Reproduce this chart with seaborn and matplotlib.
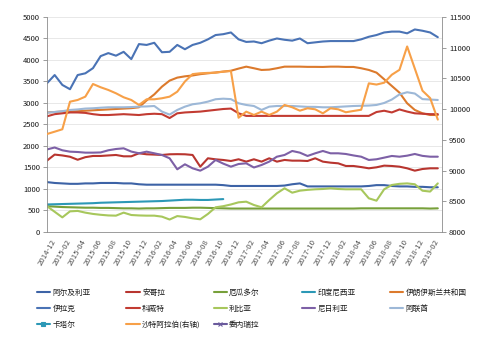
import numpy as np
import pandas as pd
import matplotlib
matplotlib.use("Agg")
import matplotlib.pyplot as plt
from matplotlib.lines import Line2D
import seaborn as sns

# Monthly crude output of OPEC members, thousand barrels per day
months = pd.period_range("2014-12", periods=52, freq="M").strftime("%Y-%m").tolist()

algeria = [1160, 1140, 1130, 1120, 1120, 1130, 1130, 1140, 1140, 1140,
           1130, 1130, 1110, 1100, 1100, 1100, 1100, 1100, 1100, 1100,
           1100, 1100, 1100, 1090, 1070, 1070, 1070, 1070, 1070, 1070,
           1070, 1080, 1110, 1130, 1060, 1060, 1060, 1060, 1060, 1060,
           1060, 1060, 1070, 1090, 1090, 1070, 1060, 1060, 1050, 1050,
           1040, 1040]
angola = [1660, 1800, 1780, 1750, 1680, 1740, 1768, 1768, 1780, 1791,
          1760, 1760, 1830, 1807, 1800, 1791, 1807, 1810, 1807, 1791,
          1519, 1714, 1690, 1675, 1651, 1691, 1636, 1691, 1636, 1714,
          1636, 1675, 1659, 1659, 1651, 1714, 1636, 1612, 1597, 1535,
          1535, 1510, 1481, 1504, 1543, 1535, 1519, 1481, 1426, 1465,
          1481, 1481]
ecuador = [600, 590, 580, 575, 570, 565, 565, 560, 560, 555,
           550, 550, 545, 550, 550, 555, 560, 560, 560, 565,
           565, 560, 555, 550, 545, 545, 545, 545, 545, 545,
           545, 545, 545, 545, 545, 545, 545, 545, 545, 545,
           545, 550, 550, 550, 550, 550, 550, 550, 550, 550,
           545, 550]
# membership suspended after 2016-11
indonesia = [640, 645, 650, 655, 660, 665, 670, 680, 685, 690,
             695, 700, 705, 710, 715, 720, 730, 740, 750, 750,
             745, 745, 755, 765]
iran = [2780, 2790, 2800, 2800, 2810, 2820, 2830, 2840, 2850, 2860,
        2870, 2880, 2900, 3060, 3200, 3380, 3520, 3590, 3620, 3640,
        3670, 3690, 3710, 3730, 3750, 3800, 3845, 3808, 3768, 3776,
        3808, 3845, 3845, 3845, 3840, 3840, 3838, 3845, 3845, 3838,
        3838, 3808, 3768, 3706, 3552, 3396, 3240, 2993, 2838, 2760,
        2721, 2721]
iraq = [3460, 3650, 3420, 3320, 3650, 3690, 3810, 4090, 4160, 4100,
        4190, 4020, 4370, 4350, 4400, 4180, 4190, 4350, 4250, 4350,
        4400, 4480, 4580, 4600, 4640, 4480, 4420, 4430, 4390, 4450,
        4500, 4470, 4450, 4500, 4390, 4410, 4430, 4440, 4440, 4440,
        4440, 4480, 4540, 4580, 4640, 4660, 4660, 4620, 4710, 4680,
        4640, 4530]
kuwait = [2690, 2740, 2760, 2780, 2780, 2770, 2740, 2720, 2720, 2730,
          2740, 2730, 2720, 2740, 2750, 2740, 2650, 2760, 2780, 2790,
          2800, 2820, 2840, 2860, 2870, 2760, 2700, 2700, 2700, 2700,
          2700, 2700, 2700, 2700, 2700, 2700, 2700, 2700, 2700, 2700,
          2700, 2700, 2700, 2790, 2820, 2780, 2850, 2800, 2760, 2750,
          2740, 2740]
libya = [600, 470, 340, 480, 490, 450, 420, 400, 385, 380,
         450, 395, 385, 380, 380, 357, 290, 370, 350, 318,
         295, 420, 574, 600, 640, 690, 705, 628, 574, 744,
         900, 1016, 914, 961, 980, 993, 1000, 1016, 1000, 993,
         993, 993, 783, 728, 993, 1093, 1120, 1130, 1110, 960,
         940, 1130]
nigeria = [1920, 1965, 1900, 1868, 1860, 1845, 1845, 1850, 1900, 1930,
           1946, 1870, 1830, 1868, 1830, 1791, 1714, 1458, 1574, 1481,
           1426, 1519, 1675, 1590, 1519, 1581, 1597, 1500, 1558, 1636,
           1751, 1791, 1884, 1845, 1768, 1830, 1884, 1830, 1830, 1814,
           1780, 1751, 1675, 1691, 1729, 1768, 1751, 1775, 1814, 1770,
           1751, 1751]
uae = [2775, 2790, 2810, 2838, 2850, 2870, 2877, 2890, 2900, 2900,
       2900, 2905, 2915, 2920, 2930, 2800, 2730, 2838, 2915, 2970,
       2993, 3032, 3087, 3100, 3090, 2993, 2954, 2930, 2838, 2915,
       2930, 2930, 2930, 2920, 2910, 2910, 2900, 2900, 2910, 2920,
       2930, 2935, 2940, 2954, 3000, 3080, 3200, 3250, 3220, 3090,
       3080, 3070]
# plotted against the right-hand axis
saudi = [9595, 9633, 9672, 10121, 10149, 10203, 10409, 10356, 10312, 10258,
         10193, 10149, 10068, 10160, 10160, 10177, 10203, 10284, 10450, 10570,
         10584, 10590, 10593, 10610, 10620, 9860, 9959, 9905, 9959, 9905,
         9959, 10068, 10030, 9975, 10014, 9997, 9932, 10014, 9997, 9949,
         9970, 9990, 10420, 10400, 10430, 10560, 10640, 11020, 10660, 10300,
         10180, 9830]

left_series = {
    "阿尔及利亚": algeria,
    "安哥拉": angola,
    "厄瓜多尔": ecuador,
    "印度尼西亚": indonesia,
    "伊朗伊斯兰共和国": iran,
    "伊拉克": iraq,
    "科威特": kuwait,
    "利比亚": libya,
    "尼日利亚": nigeria,
    "阿联酋": uae,
}
colors = {
    "阿尔及利亚": "#3d63a6",
    "安哥拉": "#b8352f",
    "厄瓜多尔": "#77a03a",
    "印度尼西亚": "#2c98b6",
    "伊朗伊斯兰共和国": "#dc7a2c",
    "伊拉克": "#4a73b5",
    "科威特": "#c23b32",
    "利比亚": "#a7c75c",
    "尼日利亚": "#7d60a6",
    "阿联酋": "#9db8d7",
    "卡塔尔": "#2c98b6",
    "沙特阿拉伯(右轴)": "#f7a048",
    "委内瑞拉": "#6a5a9c",
}

rows = []
for name, vals in left_series.items():
    for i, v in enumerate(vals):
        rows.append({"idx": i, "value": v, "country": name})
df = pd.DataFrame(rows)
df_saudi = pd.DataFrame({"idx": range(len(saudi)), "value": saudi})

sns.set_theme(style="white")
plt.rcParams["font.family"] = ["Noto Sans CJK SC", "DejaVu Sans"]

fig = plt.figure(figsize=(4.99, 3.37), dpi=100)
fig.patch.set_facecolor("white")
ax = fig.add_axes([0.0942, 0.3116, 0.7916, 0.638])

sns.lineplot(data=df, x="idx", y="value", hue="country",
             hue_order=list(left_series.keys()), palette=colors,
             linewidth=1.5, legend=False, ax=ax, sort=False)

ax2 = ax.twinx()
sns.lineplot(data=df_saudi, x="idx", y="value", color=colors["沙特阿拉伯(右轴)"],
             linewidth=1.5, legend=False, ax=ax2, sort=False)

axis_col = "#8c8c8c"
ax.set_xlim(0, 51.55)
ax.set_ylim(0, 5000)
ax2.set_ylim(8000, 11500)
ax.set_yticks(np.arange(0, 5001, 500))
ax2.set_yticks(np.arange(8000, 11501, 500))
ax.set_xticks(range(0, len(months), 2))
ax.set_xticklabels(months[::2], rotation=60, ha="center", va="top",
                   fontsize=5.6, color="#505050")
for a in (ax, ax2):
    a.set_xlabel("")
    a.set_ylabel("")
ax.tick_params(axis="y", labelsize=5.5, labelcolor="#1a1a1a", length=3,
               width=0.6, color=axis_col, direction="out", pad=2)
ax.tick_params(axis="x", length=3, width=0.6, color=axis_col, direction="out", pad=1.5)
ax2.tick_params(axis="y", labelsize=5.5, labelcolor="#1a1a1a", length=3,
                width=0.6, color=axis_col, direction="out", pad=2)

ax.yaxis.grid(True, color="#e4e4e4", linewidth=0.6)
ax.set_axisbelow(True)
for s in ("top", "right"):
    ax.spines[s].set_visible(False)
for s in ("left", "bottom"):
    ax.spines[s].set_color(axis_col)
    ax.spines[s].set_linewidth(0.6)
for s in ("top", "left", "bottom"):
    ax2.spines[s].set_visible(False)
ax2.spines["right"].set_color(axis_col)
ax2.spines["right"].set_linewidth(0.6)

# Legend laid out in five evenly spaced columns, filled row by row
legend_order = ["阿尔及利亚", "安哥拉", "厄瓜多尔", "印度尼西亚", "伊朗伊斯兰共和国",
                "伊拉克", "科威特", "利比亚", "尼日利亚", "阿联酋",
                "卡塔尔", "沙特阿拉伯(右轴)", "委内瑞拉"]
markers = {"卡塔尔": "s", "委内瑞拉": "x"}
col_x = [36.7, 126.5, 213.5, 302.0, 390.0]
W, H = 499.0, 337.0
for c in range(5):
    names = legend_order[c::5]
    handles = [Line2D([], [], color=colors[n], linewidth=1.5,
                      marker=markers.get(n), markersize=3, markeredgewidth=0.8)
               for n in names]
    fig.legend(handles, names, loc="upper left",
               bbox_to_anchor=(col_x[c] / W, 1 - 288.5 / H),
               frameon=False, fontsize=5.5, handlelength=1.75,
               handletextpad=0.3, labelspacing=1.05, borderpad=0,
               borderaxespad=0, labelcolor="#1a1a1a")

fig.savefig("out.png", dpi=100, facecolor="white")
